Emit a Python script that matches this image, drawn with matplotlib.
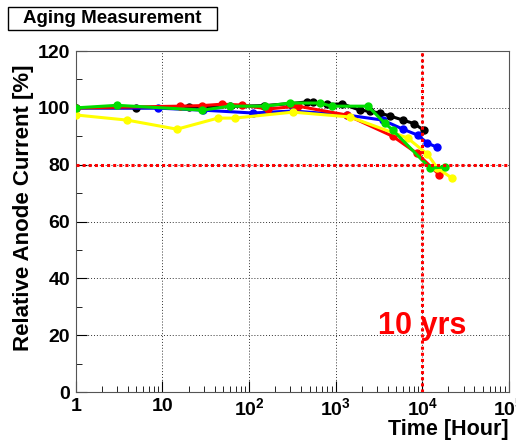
import numpy as np
import matplotlib.pyplot as plt
from matplotlib.patches import Rectangle
from matplotlib.ticker import LogLocator, NullFormatter, FixedLocator

plt.rcParams['font.family'] = ['Liberation Sans', 'DejaVu Sans']
plt.rcParams['font.weight'] = 'bold'
plt.rcParams['mathtext.fontset'] = 'custom'
plt.rcParams['mathtext.rm'] = 'Liberation Sans:bold'
plt.rcParams['mathtext.bf'] = 'Liberation Sans:bold'
plt.rcParams['mathtext.default'] = 'rm'

# time [hour] and relative anode current [%] per tube
yellow_t = [1, 3.9, 14.7, 43.6, 68, 321, 1459, 6770, 11500, 15000, 22000]
yellow_v = [97.5, 95.7, 92.5, 96.4, 96.4, 98.5, 96.8, 89.4, 83.7, 78.8, 75.3]

red_t = [1, 15.9, 29, 48.5, 82, 165, 365, 1340, 4570, 8700, 15800]
red_v = [100, 100.6, 100.8, 101.3, 101, 99.6, 100.6, 97.5, 90, 84, 76.4]

black_t = [1, 5, 20, 60, 150, 300, 467, 550, 800, 1200, 1900, 2500, 3220, 4200, 6000, 8000, 10400]
black_v = [100, 100, 100.2, 100.5, 100.8, 101.5, 102.1, 102, 101.2, 101.4, 99.2, 98.8, 98.2, 97.2, 95.7, 94.5, 92.2]

blue_t = [1, 8.9, 29.3, 110, 320, 1340, 3500, 6000, 8900, 11500, 14700]
blue_v = [100, 99.9, 99.2, 98.2, 98.9, 97.5, 95.7, 92.5, 90.4, 87.6, 86.2]

green_t = [1, 3, 29, 60, 152, 295, 660, 900, 2360, 3700, 4570, 12300, 18300]
green_v = [100, 100.9, 99.2, 100.6, 100.6, 101.7, 101.7, 100.6, 100.6, 94.6, 92.2, 78.8, 79.2]

series = [
    (black_t, black_v, 'black'),
    (blue_t, blue_v, '#0000ff'),
    (red_t, red_v, '#ff0000'),
    (yellow_t, yellow_v, '#ffff00'),
    (green_t, green_v, '#00dd00'),
]

fig = plt.figure(figsize=(5.16, 4.4), dpi=100)
ax = fig.add_axes([0.147, 0.109, 0.839, 0.775])

for t, v, c in series:
    ax.plot(t, v, color=c, lw=2.2, marker='o', ms=5, mec=c, zorder=3)

ax.axhline(80, color='red', ls=(0, (1, 1)), lw=2.2, zorder=4)
ax.axvline(1e4, color='red', ls=(0, (1, 1)), lw=2.2, zorder=4)

ax.set_xscale('log')
ax.set_xlim(1, 1e5)
ax.set_ylim(0, 120)
ax.xaxis.set_major_locator(FixedLocator([1, 10, 100, 1000, 1e4, 1e5]))
ax.set_xticklabels(['1', '10', r'$10^{2}$', r'$10^{3}$', r'$10^{4}$', r'$10^{5}$'])
ax.xaxis.set_minor_locator(LogLocator(base=10, subs=np.arange(2, 10)))
ax.xaxis.set_minor_formatter(NullFormatter())
ax.set_yticks(np.arange(0, 121, 20))
ax.set_yticks(np.arange(10, 120, 20), minor=True)

ax.grid(True, which='major', color='#333333', ls=(0, (1, 2)), lw=0.7)
ax.tick_params(which='both', direction='in', top=False, right=False, labelsize=14)
ax.tick_params(which='major', length=8, pad=4)
ax.tick_params(which='minor', length=4)
for s in ax.spines.values():
    s.set_color('#555555')

ax.set_ylabel('Relative Anode Current [%]', fontsize=16, fontweight='bold')
ax.yaxis.set_label_coords(-0.097, 0.54)
ax.set_xlabel('Time [Hour]', fontsize=15.5, fontweight='bold', loc='right', labelpad=0)

ax.text(1e4, 23.2, '10 yrs', color='red', fontsize=22, fontweight='bold', ha='center', va='center')

fig.patches.append(Rectangle((8 / 516, 1 - 30 / 440), 209 / 516, 23 / 440,
                             transform=fig.transFigure, fc='white', ec='black', lw=1))
fig.text(23 / 516, 1 - 18.5 / 440, 'Aging Measurement', fontsize=13.5, fontweight='bold', va='center')

fig.savefig('out.png', dpi=100)
